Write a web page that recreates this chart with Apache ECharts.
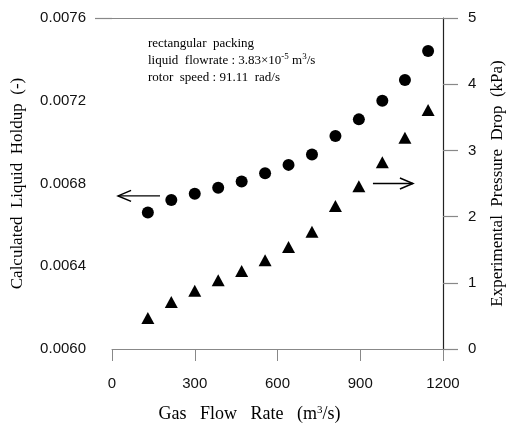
<!DOCTYPE html>
<html>
<head>
<meta charset="utf-8">
<script src="https://cdn.jsdelivr.net/npm/echarts@6/dist/echarts.min.js"></script>
<style>
  html, body { margin: 0; padding: 0; background: #fff; }
  #chart { width: 508px; height: 431px; }
</style>
</head>
<body>
<div id="chart"></div>
<script>
// Gas flow rate (m3/s) for each run
const gasFlow = [130, 215, 300, 385, 470, 555, 640, 725, 810, 895, 980, 1062, 1146];
// Calculated liquid holdup (-), left axis
const holdup = [0.00666, 0.00672, 0.00675, 0.00678, 0.00681, 0.00685, 0.00689,
                0.00694, 0.00703, 0.00711, 0.00720, 0.00730, 0.00744];
// Experimental pressure drop (kPa), right axis
const pressureDrop = [0.47, 0.71, 0.88, 1.04, 1.18, 1.34, 1.54, 1.77, 2.16, 2.46, 2.82, 3.19, 3.61];

// Axis ranges and tick steps
const xRange = [0, 1200, 300];
const holdupRange = [0.0060, 0.0076, 0.0004];
const pressureRange = [0, 5, 1];

// Arrows pointing each series to its axis: [from x, to x, y]
const holdupArrow = [[174, 22, 0.00674]];
const pressureArrow = [[946, 1091, 2.5]];

const serif = '"Liberation Serif", "Times New Roman", serif';
const sans = '"Liberation Sans", Arial, sans-serif';

function arrowItem(params, api) {
  const p0 = api.coord([api.value(0), api.value(2)]);
  const p1 = api.coord([api.value(1), api.value(2)]);
  const dir = Math.sign(p1[0] - p0[0]);
  const head = 13, half = 5.5;
  return {
    type: 'group',
    children: [
      { type: 'line', shape: { x1: p0[0], y1: p0[1], x2: p1[0], y2: p1[1] },
        style: { stroke: '#000', lineWidth: 1.3 } },
      { type: 'polyline',
        shape: { points: [[p1[0] - dir * head, p1[1] - half], [p1[0], p1[1]], [p1[0] - dir * head, p1[1] + half]] },
        style: { stroke: '#000', lineWidth: 1.5, fill: null } }
    ]
  };
}

const chart = echarts.init(document.getElementById('chart'), null, { renderer: 'canvas' });

chart.setOption({
  animation: false,
  backgroundColor: '#fff',
  grid: { left: 112, right: 65, top: 18, bottom: 82, containLabel: false, outerBoundsMode: 'none' },
  graphic: [{
    type: 'text',
    left: 148,
    top: 35,
    style: {
      text: 'rectangular  packing\nliquid  flowrate : 3.83×10{sup|-5} m{sup|3}/s\nrotor  speed : 91.11  rad/s',
      font: '13px ' + serif,
      fill: '#000',
      lineHeight: 17,
      rich: {
        sup: { fontSize: 9, fontFamily: serif, verticalAlign: 'top', lineHeight: 17, fill: '#000' }
      }
    }
  }],
  xAxis: [{
    type: 'value',
    min: xRange[0], max: xRange[1], interval: xRange[2],
    position: 'bottom',
    name: 'Gas   Flow   Rate   (m{sup|3}/s)',
    nameLocation: 'middle',
    nameGap: 56,
    nameTextStyle: {
      fontFamily: serif, fontSize: 18, color: '#000', padding: [0, 56, 0, 0],
      rich: { sup: { fontSize: 11, fontFamily: serif, verticalAlign: 'top', color: '#000' } }
    },
    axisLine: { show: true, onZero: false, lineStyle: { color: '#888', width: 1 } },
    axisTick: { show: true, inside: false, length: 12, lineStyle: { color: '#888' } },
    axisLabel: { margin: 27, fontFamily: sans, fontSize: 15, color: '#111',
      formatter: v => String(v) },
    splitLine: { show: false }
  }, {
    type: 'value',
    min: xRange[0], max: xRange[1], interval: xRange[2],
    position: 'top',
    axisLine: { show: true, onZero: false, lineStyle: { color: '#888', width: 1.2 } },
    axisTick: { show: false },
    axisLabel: { show: false },
    splitLine: { show: false }
  }],
  yAxis: [{
    type: 'value',
    min: holdupRange[0], max: holdupRange[1], interval: holdupRange[2],
    position: 'left',
    name: 'Calculated  Liquid  Holdup  (-)',
    nameLocation: 'middle',
    nameGap: 86,
    nameTextStyle: { fontFamily: serif, fontSize: 17, color: '#000' },
    axisLine: { show: false },
    axisTick: { show: true, length: 17, customValues: [holdupRange[1]], lineStyle: { color: '#888', width: 1.2 } },
    axisLabel: { margin: 26, fontFamily: sans, fontSize: 15, color: '#111',
      formatter: v => v.toFixed(4) },
    splitLine: { show: false }
  }, {
    type: 'value',
    min: pressureRange[0], max: pressureRange[1], interval: pressureRange[2],
    position: 'right',
    name: 'Experimental  Pressure  Drop  (kPa)',
    nameLocation: 'middle',
    nameGap: 46,
    nameTextStyle: { fontFamily: serif, fontSize: 17, color: '#000' },
    axisLine: { show: true, onZero: false, lineStyle: { color: '#222', width: 1.2 } },
    axisTick: { show: true, length: 15, lineStyle: { color: '#888', width: 1.2 } },
    axisLabel: { margin: 25, fontFamily: sans, fontSize: 15, color: '#111' },
    splitLine: { show: false }
  }],
  series: [{
    name: 'Calculated Liquid Holdup',
    type: 'scatter',
    xAxisIndex: 0, yAxisIndex: 0,
    symbol: 'circle',
    symbolSize: 12,
    itemStyle: { color: '#000', opacity: 1 },
    data: gasFlow.map((x, i) => [x, holdup[i]])
  }, {
    name: 'Experimental Pressure Drop',
    type: 'scatter',
    xAxisIndex: 0, yAxisIndex: 1,
    symbol: 'triangle',
    symbolSize: [13, 12],
    itemStyle: { color: '#000', opacity: 1 },
    data: gasFlow.map((x, i) => [x, pressureDrop[i]])
  }, {
    type: 'custom',
    xAxisIndex: 0, yAxisIndex: 0,
    renderItem: arrowItem,
    encode: { x: [0, 1], y: 2 },
    clip: false,
    silent: true,
    data: holdupArrow
  }, {
    type: 'custom',
    xAxisIndex: 0, yAxisIndex: 1,
    renderItem: arrowItem,
    encode: { x: [0, 1], y: 2 },
    clip: false,
    silent: true,
    data: pressureArrow
  }]
});
</script>
</body>
</html>
